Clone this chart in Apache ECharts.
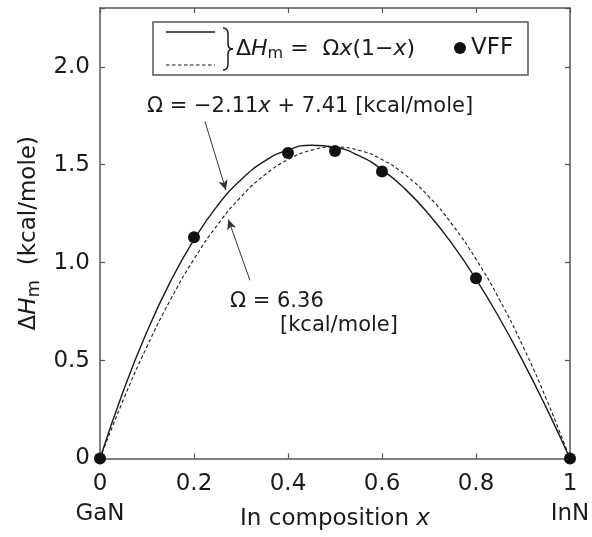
<!DOCTYPE html>
<html>
<head>
<meta charset="utf-8">
<title>Mixing enthalpy of InGaN</title>
<script src="https://cdn.jsdelivr.net/npm/echarts@6/dist/echarts.min.js"></script>
<style>
  html, body { margin: 0; padding: 0; background: #fff; }
  #chart { width: 592px; height: 537px; }
</style>
</head>
<body>
<div id="chart"></div>
<script>
// In composition x of the In(x)Ga(1-x)N alloy
const compositionX = [0, 0.05, 0.1, 0.15, 0.2, 0.25, 0.3, 0.35, 0.4, 0.45, 0.5,
                      0.55, 0.6, 0.65, 0.7, 0.75, 0.8, 0.85, 0.9, 0.95, 1];
// Fit with composition-dependent Ω = -2.11x + 7.41 (solid)
const fitLinearOmega = [0, 0.347, 0.648, 0.904, 1.118, 1.291, 1.423, 1.518, 1.576, 1.599, 1.589,
                        1.547, 1.475, 1.374, 1.246, 1.093, 0.916, 0.716, 0.496, 0.257, 0];
// Fit with constant Ω = 6.36 (dashed)
const fitConstOmega = [0, 0.302, 0.572, 0.811, 1.018, 1.193, 1.336, 1.447, 1.526, 1.574, 1.590,
                       1.574, 1.526, 1.447, 1.336, 1.193, 1.018, 0.811, 0.572, 0.302, 0];
// Valence force field results
const vffX = [0, 0.2, 0.4, 0.5, 0.6, 0.8, 1];
const vffH = [0, 1.13, 1.56, 1.57, 1.465, 0.92, 0];
// Axis ranges
const xRange = [0, 1];
const yRange = [0, 2.3];

const FONT = '"DejaVu Sans", "Liberation Sans", Arial, sans-serif';
const INK = '#1a1a1a';
const FRAME = '#555';

const pair = (xs, ys) => xs.map((x, i) => [x, ys[i]]);

const chart = echarts.init(document.getElementById('chart'), null, { renderer: 'canvas' });

const axisCommon = () => ({
  axisLine: { show: true, onZero: false, lineStyle: { color: FRAME, width: 1.5 } },
  axisTick: { show: true, inside: true, length: 5, lineStyle: { color: FRAME, width: 1.2 } },
  splitLine: { show: false }
});

// the curly brace grouping the two fit lines in the legend
const braceStroke = { fill: null, stroke: INK, lineWidth: 1.5 };
const brace = [
  { type: 'bezierCurve', shape: { x1: 223, y1: 28, x2: 228, y2: 34, cpx1: 228, cpy1: 28 } },
  { type: 'line', shape: { x1: 228, y1: 34, x2: 228, y2: 44 } },
  { type: 'bezierCurve', shape: { x1: 228, y1: 44, x2: 233, y2: 49, cpx1: 228, cpy1: 49 } },
  { type: 'bezierCurve', shape: { x1: 233, y1: 49, x2: 228, y2: 54, cpx1: 228, cpy1: 49 } },
  { type: 'line', shape: { x1: 228, y1: 54, x2: 228, y2: 64 } },
  { type: 'bezierCurve', shape: { x1: 228, y1: 64, x2: 223, y2: 70, cpx1: 228, cpy1: 70 } }
].map(el => Object.assign(el, { style: braceStroke, z: 11 }));

const option = {
  backgroundColor: '#fff',
  animation: false,
  grid: { left: 100, right: 22, top: 8, bottom: 78.5, containLabel: false, outerBoundsMode: 'none' },
  xAxis: [
    Object.assign({
      type: 'value', position: 'bottom', min: xRange[0], max: xRange[1], interval: 0.2,
      name: '{n|In composition }{i|x}',
      nameLocation: 'middle', nameGap: 49, nameMoveOverlap: false,
      nameTextStyle: {
        rich: {
          n: { fontFamily: FONT, fontSize: 23, color: INK },
          i: { fontFamily: FONT, fontSize: 23, color: INK, fontStyle: 'italic' }
        }
      },
      axisLabel: {
        margin: 11, fontFamily: FONT, fontSize: 23, color: INK, lineHeight: 30,
        formatter: v => v === 0 ? '0\nGaN' : (v === 1 ? '1\nInN' : v.toFixed(1))
      }
    }, axisCommon()),
    Object.assign({
      type: 'value', position: 'top', min: xRange[0], max: xRange[1], interval: 0.2,
      axisLabel: { show: false }
    }, axisCommon())
  ],
  yAxis: [
    Object.assign({
      type: 'value', position: 'left', min: yRange[0], max: yRange[1], interval: 0.5,
      name: '{a|Δ}{i|H}{s|m}{a|  (kcal/mole)}',
      nameLocation: 'middle', nameGap: 56, nameMoveOverlap: false,
      nameTextStyle: {
        rich: {
          a: { fontFamily: FONT, fontSize: 23, color: INK, lineHeight: 30 },
          i: { fontFamily: FONT, fontSize: 23, color: INK, fontStyle: 'italic', lineHeight: 30 },
          s: { fontFamily: FONT, fontSize: 18, color: INK, lineHeight: 30, padding: [10, 0, 0, 0] }
        }
      },
      axisLabel: {
        margin: 10, fontFamily: FONT, fontSize: 23, color: INK,
        formatter: v => {
          const onStep = Math.abs(v * 2 - Math.round(v * 2)) < 1e-6;
          if (!onStep) return '';
          return v === 0 ? '0' : v.toFixed(1);
        }
      }
    }, axisCommon()),
    Object.assign({
      type: 'value', position: 'right', min: yRange[0], max: yRange[1], interval: 0.5,
      axisLabel: { show: false }
    }, axisCommon())
  ],
  series: [
    {
      name: 'Ω = -2.11x + 7.41',
      type: 'line',
      data: pair(compositionX, fitLinearOmega),
      smooth: true,
      showSymbol: false,
      lineStyle: { color: INK, width: 1.4, type: 'solid' },
      z: 3,
      markLine: {
        silent: true,
        symbol: ['none', 'arrow'],
        symbolSize: [7, 10],
        label: { show: false },
        lineStyle: { color: '#333', width: 1, type: 'solid' },
        data: [
          [{ coord: [0.2234, 1.72] }, { coord: [0.268, 1.37] }],
          [{ coord: [0.319, 0.91] }, { coord: [0.273, 1.22] }]
        ]
      }
    },
    {
      name: 'Ω = 6.36',
      type: 'line',
      data: pair(compositionX, fitConstOmega),
      smooth: true,
      showSymbol: false,
      lineStyle: { color: INK, width: 1.1, type: [3.5, 2.5] },
      z: 3
    },
    {
      name: 'VFF',
      type: 'scatter',
      data: pair(vffX, vffH),
      symbol: 'circle',
      symbolSize: 12,
      itemStyle: { color: '#111', opacity: 1 },
      clip: false,
      z: 5
    }
  ],
  graphic: [
    // legend frame
    { type: 'rect', shape: { x: 153, y: 22, width: 375, height: 53 },
      style: { fill: '#fff', stroke: FRAME, lineWidth: 1.5 }, z: 10 },
    { type: 'line', shape: { x1: 166, y1: 32, x2: 215, y2: 32 },
      style: { stroke: INK, lineWidth: 1.4 }, z: 11 },
    { type: 'line', shape: { x1: 166, y1: 65, x2: 215, y2: 65 },
      style: { stroke: INK, lineWidth: 1.1, lineDash: [3.5, 2.5] }, z: 11 }
  ].concat(brace, [
    { type: 'text', left: 236, top: 37, z: 11,
      style: {
        text: '{a|Δ}{i|H}{s|m}{a| =  Ω}{i|x}{a|(1−}{i|x}{a|)}',
        rich: {
          a: { fontFamily: FONT, fontSize: 22, fill: INK, lineHeight: 26 },
          i: { fontFamily: FONT, fontSize: 22, fill: INK, fontStyle: 'italic', lineHeight: 26 },
          s: { fontFamily: FONT, fontSize: 16, fill: INK, lineHeight: 26, padding: [9, 0, 0, 0] }
        }
      } },
    { type: 'circle', shape: { cx: 460, cy: 48, r: 6 }, style: { fill: '#111' }, z: 11 },
    { type: 'text', left: 471, top: 37, z: 11,
      style: { text: 'VFF', fontFamily: FONT, fontSize: 23, fill: INK } },
    // curve annotations
    { type: 'text', left: 147, top: 96, z: 11,
      style: {
        text: '{a|Ω = −2.11}{i|x}{a| + 7.41 [kcal/mole]}',
        rich: {
          a: { fontFamily: FONT, fontSize: 21, fill: INK },
          i: { fontFamily: FONT, fontSize: 21, fill: INK, fontStyle: 'italic' }
        }
      } },
    { type: 'text', left: 230, top: 291, z: 11,
      style: { text: 'Ω = 6.36', fontFamily: FONT, fontSize: 21, fill: INK } },
    { type: 'text', left: 280, top: 315, z: 11,
      style: { text: '[kcal/mole]', fontFamily: FONT, fontSize: 21, fill: INK } }
  ])
};

chart.setOption(option);
</script>
</body>
</html>
